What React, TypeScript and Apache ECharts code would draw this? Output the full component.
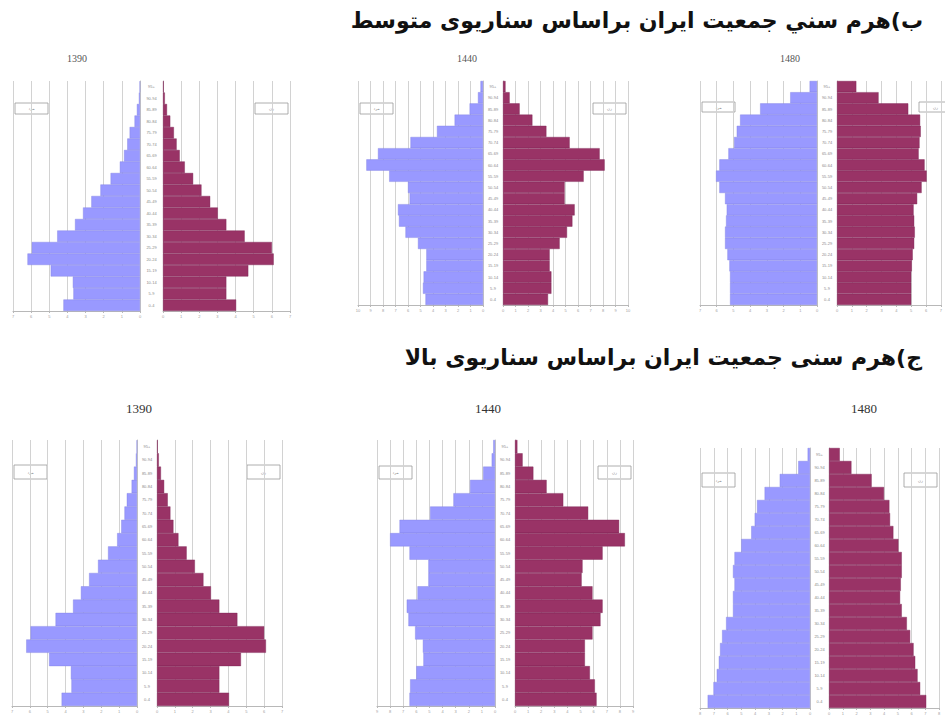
import React, { useEffect, useRef } from "react";
import * as echarts from "echarts";

// Age groups, listed from the top bar to the bottom bar
const AGE_GROUPS = [
  "95+", "90-94", "85-89", "80-84", "75-79", "70-74", "65-69", "60-64", "55-59", "50-54",
  "45-49", "40-44", "35-39", "30-34", "25-29", "20-24", "15-19", "10-14", "5-9", "0-4",
];

// Base year 1390 (same in both scenarios)
const MALE_1390 = [0.02, 0.06, 0.17, 0.3, 0.57, 0.7, 0.88, 1.11, 1.62, 2.18, 2.68, 3.14, 3.58, 4.56, 5.96, 6.2, 4.92, 3.7, 3.67, 4.22];
const FEMALE_1390 = [0.04, 0.1, 0.22, 0.4, 0.6, 0.75, 0.92, 1.2, 1.66, 2.12, 2.6, 3.02, 3.49, 4.5, 6.0, 6.1, 4.7, 3.49, 3.49, 4.03];

// Medium scenario
const MALE_1440_MEDIUM = [0.2, 0.4, 1.07, 2.27, 3.68, 5.8, 8.4, 9.33, 7.5, 6.0, 5.87, 6.8, 6.72, 6.2, 5.2, 4.53, 4.53, 4.75, 4.8, 4.6];
const FEMALE_1440_MEDIUM = [0.2, 0.53, 1.33, 2.35, 3.47, 5.33, 7.73, 8.13, 6.45, 4.93, 4.93, 5.73, 5.55, 5.12, 4.53, 3.73, 3.73, 3.87, 3.87, 3.6];
const MALE_1480_MEDIUM = [0.44, 1.6, 3.4, 4.6, 4.8, 4.96, 5.3, 5.84, 6.04, 5.84, 5.5, 5.4, 5.44, 5.5, 5.5, 5.36, 5.24, 5.2, 5.2, 5.2];
const FEMALE_1480_MEDIUM = [1.3, 2.8, 4.8, 5.6, 5.64, 5.56, 5.5, 5.9, 6.04, 5.7, 5.4, 5.16, 5.2, 5.24, 5.2, 5.1, 5.04, 5.0, 5.0, 5.0];

// High scenario
const MALE_1440_HIGH = [0.13, 0.25, 0.9, 1.9, 3.17, 4.95, 7.28, 8.0, 6.52, 5.08, 5.08, 5.91, 6.73, 6.6, 6.09, 5.5, 5.46, 6.0, 6.47, 6.52];
const FEMALE_1440_HIGH = [0.18, 0.58, 1.4, 2.41, 3.68, 5.58, 7.94, 8.38, 6.68, 5.15, 5.08, 5.91, 6.68, 6.52, 5.91, 5.33, 5.33, 5.71, 6.09, 6.22];
const MALE_1480_HIGH = [0.17, 0.85, 2.2, 3.3, 3.85, 4.02, 4.27, 5.0, 5.49, 5.6, 5.49, 5.6, 5.6, 6.1, 6.39, 6.54, 6.63, 6.78, 7.02, 7.44];
const FEMALE_1480_HIGH = [0.78, 1.63, 3.1, 4.0, 4.39, 4.44, 4.68, 5.05, 5.29, 5.29, 5.22, 5.17, 5.29, 5.66, 5.9, 6.15, 6.27, 6.44, 6.63, 7.07];

const YEARS = ["1390", "1440", "1480"];
const HEADING_MEDIUM = "ب)هرم سني جمعيت ايران براساس سناريوى متوسط";
const HEADING_HIGH = "ج)هرم سنی جمعیت ایران براساس سناریوی بالا";
const LEGEND_MALE = "مرد";
const LEGEND_FEMALE = "زن";

const MALE_COLOR = "#9999FF";
const FEMALE_COLOR = "#993366";

type Panel = {
  year: string;
  male: number[];
  female: number[];
  max: number;
  leftX: number;
  rightX: number;
  w: number;
  top: number;
  h: number;
  titleX: number;
  titleY: number;
  titleSize: number;
  legY: number;
  legH: number;
};

const PANELS: Panel[] = [
  { year: YEARS[0], male: MALE_1390, female: FEMALE_1390, max: 7, leftX: 13, rightX: 163, w: 127, top: 81, h: 230, titleX: 77, titleY: 58, titleSize: 10, legY: 103, legH: 11 },
  { year: YEARS[1], male: MALE_1440_MEDIUM, female: FEMALE_1440_MEDIUM, max: 10, leftX: 358, rightX: 503, w: 125, top: 81, h: 224, titleX: 467, titleY: 58, titleSize: 10, legY: 103, legH: 11 },
  { year: YEARS[2], male: MALE_1480_MEDIUM, female: FEMALE_1480_MEDIUM, max: 7, leftX: 700, rightX: 837, w: 117, top: 81, h: 224, titleX: 790, titleY: 58, titleSize: 10, legY: 102, legH: 10 },
  { year: YEARS[0], male: MALE_1390, female: FEMALE_1390, max: 7, leftX: 12, rightX: 157, w: 125, top: 440, h: 266, titleX: 139, titleY: 408, titleSize: 13, legY: 465, legH: 14 },
  { year: YEARS[1], male: MALE_1440_HIGH, female: FEMALE_1440_HIGH, max: 9, leftX: 377, rightX: 515, w: 118, top: 440, h: 266, titleX: 488, titleY: 408, titleSize: 13, legY: 466, legH: 13 },
  { year: YEARS[2], male: MALE_1480_HIGH, female: FEMALE_1480_HIGH, max: 8, leftX: 700, rightX: 829, w: 110, top: 448, h: 264, titleX: 864, titleY: 408, titleSize: 13, legY: 473, legH: 14 },
];

function buildOption() {
  const grid: any[] = [];
  const xAxis: any[] = [];
  const yAxis: any[] = [];
  const series: any[] = [];
  const graphic: any[] = [];

  PANELS.forEach((p, i) => {
    const li = i * 2;
    const ri = i * 2 + 1;
    const gap = p.rightX - (p.leftX + p.w);
    grid.push({ left: p.leftX, top: p.top, width: p.w, height: p.h, containLabel: false });
    grid.push({ left: p.rightX, top: p.top, width: p.w, height: p.h, containLabel: false });

    const xCommon = {
      type: "value",
      min: 0,
      max: p.max,
      interval: 1,
      splitLine: { show: true, lineStyle: { color: "#d2d2d2", width: 1 } },
      axisLine: { show: true, onZero: false, lineStyle: { color: "#b8b8b8", width: 1 } },
      axisTick: { show: true, length: 2, lineStyle: { color: "#b8b8b8" } },
      axisLabel: { fontSize: 4, color: "#a0a0a0", margin: 3, fontFamily: "Liberation Sans" },
    };
    xAxis.push({ ...xCommon, gridIndex: li, inverse: true });
    xAxis.push({ ...xCommon, gridIndex: ri });

    yAxis.push({
      gridIndex: li,
      type: "category",
      data: AGE_GROUPS,
      inverse: true,
      position: "right",
      axisLine: { show: true, onZero: false, lineStyle: { color: "#c4c4c4" } },
      axisTick: { show: false },
      axisLabel: { show: false },
    });
    yAxis.push({
      gridIndex: ri,
      type: "category",
      data: AGE_GROUPS,
      inverse: true,
      position: "left",
      axisLine: { show: true, onZero: false, lineStyle: { color: "#c4c4c4" } },
      axisTick: { show: false },
      axisLabel: {
        show: true,
        interval: 0,
        fontSize: 4,
        color: "#8a8a8a",
        align: "center",
        margin: gap / 2,
        fontFamily: "Liberation Sans",
      },
    });

    series.push({
      type: "bar",
      name: LEGEND_MALE,
      xAxisIndex: li,
      yAxisIndex: li,
      data: p.male,
      barCategoryGap: "0%",
      itemStyle: { color: MALE_COLOR, borderColor: "#7d7de0", borderWidth: 0.4 },
      silent: true,
    });
    series.push({
      type: "bar",
      name: LEGEND_FEMALE,
      xAxisIndex: ri,
      yAxisIndex: ri,
      data: p.female,
      barCategoryGap: "0%",
      itemStyle: { color: FEMALE_COLOR, borderColor: "#7a2250", borderWidth: 0.4 },
      silent: true,
    });

    // year title
    graphic.push({
      type: "text",
      x: p.titleX,
      y: p.titleY,
      style: {
        text: p.year,
        fontSize: p.titleSize,
        fontFamily: "Liberation Serif",
        fill: i < 3 ? "#555" : "#333",
        align: "center",
        verticalAlign: "middle",
      },
    });

    // legend boxes
    const legW = 33;
    const boxes = [
      { x: p.leftX + 2, label: LEGEND_MALE },
      { x: p.leftX + p.w + gap + p.w - legW - 2, label: LEGEND_FEMALE },
    ];
    boxes.forEach((b) => {
      graphic.push({
        type: "rect",
        shape: { x: b.x, y: p.legY, width: legW, height: p.legH },
        style: { fill: "#ffffff", stroke: "#9a9a9a", lineWidth: 0.8 },
      });
      graphic.push({
        type: "text",
        x: b.x + legW / 2,
        y: p.legY + p.legH / 2,
        style: {
          text: b.label,
          fontSize: 4,
          fontFamily: "DejaVu Sans",
          fill: "#888",
          align: "center",
          verticalAlign: "middle",
        },
      });
    });
  });

  graphic.push({
    type: "text",
    x: 923,
    y: 20,
    style: {
      text: HEADING_MEDIUM,
      fontSize: 22,
      fontWeight: "bold",
      fontFamily: "DejaVu Sans",
      fill: "#111",
      align: "right",
      verticalAlign: "middle",
    },
  });
  graphic.push({
    type: "text",
    x: 922,
    y: 357,
    style: {
      text: HEADING_HIGH,
      fontSize: 22,
      fontWeight: "bold",
      fontFamily: "DejaVu Sans",
      fill: "#111",
      align: "right",
      verticalAlign: "middle",
    },
  });

  return {
    animation: false,
    backgroundColor: "#ffffff",
    grid,
    xAxis,
    yAxis,
    series,
    graphic,
  };
}

export default function App() {
  const ref = useRef<HTMLDivElement>(null);
  useEffect(() => {
    document.body.style.margin = "0";
    if (!ref.current) return;
    const chart = echarts.init(ref.current, undefined, { renderer: "svg" });
    chart.setOption(buildOption() as any);
    return () => {
      chart.dispose();
    };
  }, []);
  return <div ref={ref} style={{ width: 945, height: 715, overflow: "hidden" }} />;
}
